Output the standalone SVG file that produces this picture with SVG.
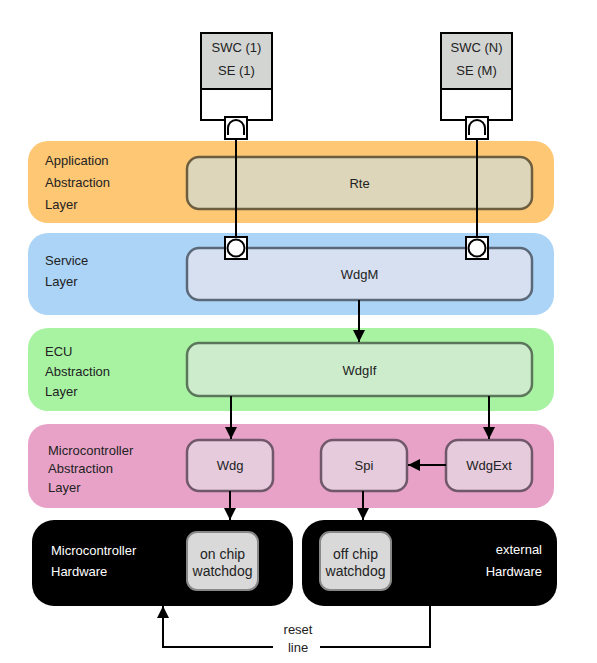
<svg xmlns="http://www.w3.org/2000/svg" width="597" height="663" viewBox="0 0 597 663">
<defs>
<style>
text{font-family:"Liberation Sans",Arial,sans-serif;font-size:13px;fill:#222}
.c{text-anchor:middle}
.w{fill:#fff}
.wd{font-size:14px}
.band{stroke:none}
.mod{stroke-width:2.5}
.ln{stroke:#000;stroke-width:2;fill:none}
.port{fill:#fff;stroke:#000;stroke-width:2}
</style>
<marker id="a" viewBox="0 0 12 12" refX="12" refY="6" markerWidth="12" markerHeight="12" orient="auto" markerUnits="userSpaceOnUse">
<path d="M0,0 L12,6 L0,12 z" fill="#000"/>
</marker>
</defs>
<rect width="597" height="663" fill="#fff"/>

<g id="layer-app">
<rect class="band" x="28" y="141" width="526" height="82" rx="20" fill="#fdc774"/>
<text x="45" y="165">Application</text>
<text x="45" y="187">Abstraction</text>
<text x="45" y="209">Layer</text>
</g>
<g id="layer-service">
<rect class="band" x="28" y="233" width="526" height="82" rx="20" fill="#abd4f7"/>
<text x="45" y="265">Service</text>
<text x="45" y="286">Layer</text>
</g>
<g id="layer-ecu">
<rect class="band" x="28" y="328" width="526" height="83" rx="20" fill="#a8f3a2"/>
<text x="45" y="356">ECU</text>
<text x="45" y="376">Abstraction</text>
<text x="45" y="396">Layer</text>
</g>
<g id="layer-mcal">
<rect class="band" x="28" y="424" width="526" height="84" rx="20" fill="#e8a2c8"/>
<text x="48" y="455">Microcontroller</text>
<text x="48" y="473">Abstraction</text>
<text x="48" y="492">Layer</text>
</g>

<g id="swc1">
<rect x="201" y="33" width="71" height="56" fill="#d3d5d2" stroke="#000" stroke-width="2"/>
<rect x="201" y="89" width="71" height="31" fill="#fff" stroke="#000" stroke-width="2"/>
<text class="c" x="236.5" y="52">SWC (1)</text>
<text class="c" x="236.5" y="75">SE (1)</text>
</g>
<g id="swcN">
<rect x="441" y="33" width="71" height="56" fill="#d3d5d2" stroke="#000" stroke-width="2"/>
<rect x="441" y="89" width="71" height="31" fill="#fff" stroke="#000" stroke-width="2"/>
<text class="c" x="476.5" y="52">SWC (N)</text>
<text class="c" x="476.5" y="75">SE (M)</text>
</g>

<g id="rte">
<rect class="mod" x="187" y="157" width="345" height="52" rx="12" fill="#ddd6bb" stroke="#6e5e40"/>
<text class="c" x="359.5" y="188">Rte</text>
</g>
<g id="wdgm">
<rect class="mod" x="187" y="248" width="345" height="52" rx="12" fill="#d6e0f1" stroke="#5b6878"/>
<text class="c" x="359.5" y="279">WdgM</text>
</g>
<g id="wdgif">
<rect class="mod" x="187" y="343" width="345" height="53" rx="12" fill="#cdeccc" stroke="#5b765b"/>
<text class="c" x="359.5" y="375">WdgIf</text>
</g>
<g id="wdg">
<rect class="mod" x="187" y="440" width="86" height="51" rx="12" fill="#e5cbdc" stroke="#70586a"/>
<text class="c" x="230" y="470">Wdg</text>
</g>
<g id="spi">
<rect class="mod" x="321" y="440" width="86" height="51" rx="12" fill="#e5cbdc" stroke="#70586a"/>
<text class="c" x="364" y="470">Spi</text>
</g>
<g id="wdgext">
<rect class="mod" x="446" y="440" width="86" height="51" rx="12" fill="#e5cbdc" stroke="#70586a"/>
<text class="c" x="489" y="470">WdgExt</text>
</g>

<g id="hw-mcu">
<rect x="32" y="520" width="261" height="86" rx="22" fill="#000"/>
<text class="w" x="51" y="555">Microcontroller</text>
<text class="w" x="51" y="576">Hardware</text>
<rect x="187" y="532" width="71" height="58" rx="10" fill="#d9d9d9" stroke="#888" stroke-width="2"/>
<text class="c wd" x="222.5" y="559">on chip</text>
<text class="c wd" x="222.5" y="576">watchdog</text>
</g>
<g id="hw-ext">
<rect x="302" y="520" width="255" height="86" rx="22" fill="#000"/>
<text class="w" x="542" y="554" text-anchor="end">external</text>
<text class="w" x="542" y="576" text-anchor="end">Hardware</text>
<rect x="320" y="532" width="71" height="58" rx="10" fill="#d9d9d9" stroke="#888" stroke-width="2"/>
<text class="c wd" x="355.5" y="559">off chip</text>
<text class="c wd" x="355.5" y="576">watchdog</text>
</g>

<g id="connectors">
<line class="ln" x1="236" y1="138" x2="236" y2="237"/>
<line class="ln" x1="477" y1="138" x2="477" y2="237"/>
<line class="ln" x1="359" y1="300" x2="359" y2="342" marker-end="url(#a)"/>
<line class="ln" x1="231" y1="396" x2="231" y2="439" marker-end="url(#a)"/>
<line class="ln" x1="489" y1="396" x2="489" y2="439" marker-end="url(#a)"/>
<line class="ln" x1="446" y1="465" x2="408" y2="465" marker-end="url(#a)"/>
<line class="ln" x1="230" y1="491" x2="230" y2="520" marker-end="url(#a)"/>
<line class="ln" x1="363" y1="491" x2="363" y2="520" marker-end="url(#a)"/>
<polyline class="ln" points="273,647 163,647 163,606" marker-end="url(#a)"/>
<polyline class="ln" points="320,647 430,647 430,605"/>
<text class="c" x="298" y="634">reset</text>
<text class="c" x="298" y="652">line</text>
</g>

<g id="ports">
<rect class="port" x="225" y="117" width="22" height="22"/>
<path d="M228,135 V128 A8,8 0 0 1 244,128 V135" fill="none" stroke="#000" stroke-width="2"/>
<rect class="port" x="466" y="117" width="22" height="22"/>
<path d="M469,135 V128 A8,8 0 0 1 485,128 V135" fill="none" stroke="#000" stroke-width="2"/>
<rect class="port" x="225" y="237" width="22" height="22"/>
<circle cx="236" cy="248" r="8.5" fill="#fff" stroke="#000" stroke-width="2"/>
<rect class="port" x="466" y="237" width="22" height="22"/>
<circle cx="477" cy="248" r="8.5" fill="#fff" stroke="#000" stroke-width="2"/>
</g>
</svg>
